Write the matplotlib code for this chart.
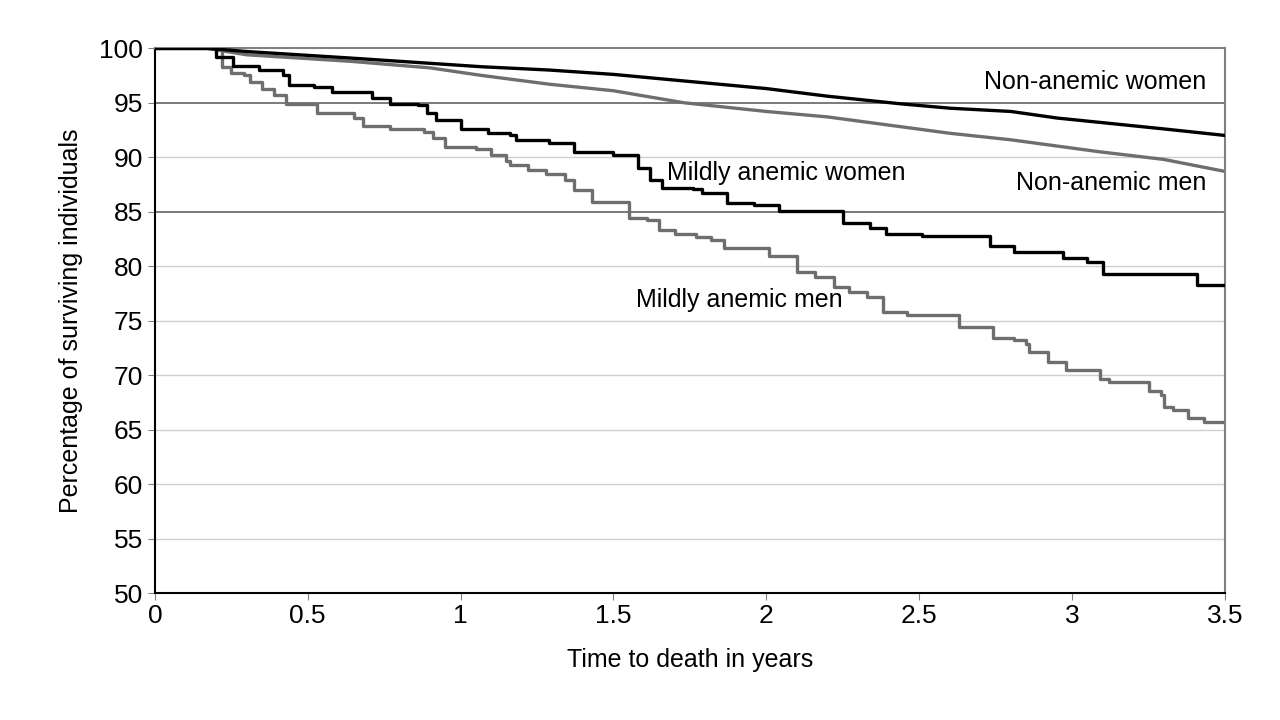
import matplotlib
matplotlib.use("Agg")
import matplotlib.pyplot as plt

# survival curves (time in years, % surviving)
nonanemic_women_t = [0, 0.17, 0.3, 0.64, 1.07, 1.29, 1.5, 1.73, 2.0, 2.2, 2.44, 2.6, 2.8, 2.95, 3.09, 3.3, 3.5]
nonanemic_women_s = [100, 100, 99.7, 99.1, 98.3, 98.0, 97.6, 97.0, 96.3, 95.6, 94.9, 94.5, 94.2, 93.6, 93.2, 92.6, 92.0]

nonanemic_men_t = [0, 0.17, 0.3, 0.64, 0.9, 1.07, 1.29, 1.5, 1.73, 2.0, 2.2, 2.44, 2.6, 2.8, 3.09, 3.3, 3.5]
nonanemic_men_s = [100, 100, 99.4, 98.8, 98.2, 97.5, 96.7, 96.1, 95.0, 94.2, 93.7, 92.8, 92.2, 91.6, 90.5, 89.8, 88.7]

mild_women_t = [0, 0.17, 0.2, 0.255, 0.34, 0.42, 0.44, 0.52, 0.58, 0.71, 0.77, 0.86, 0.89, 0.92, 1.0,
                1.09, 1.16, 1.18, 1.29, 1.37, 1.5, 1.58, 1.62, 1.66, 1.76, 1.79, 1.87, 1.96, 2.04, 2.25,
                2.34, 2.39, 2.51, 2.73, 2.81, 2.97, 3.05, 3.1, 3.41, 3.5]
mild_women_s = [100, 100, 99.2, 98.4, 98.0, 97.5, 96.6, 96.4, 96.0, 95.4, 94.9, 94.8, 94.1, 93.4, 92.6,
                92.2, 92.0, 91.6, 91.3, 90.5, 90.2, 89.0, 87.9, 87.2, 87.1, 86.7, 85.8, 85.6, 85.1, 84.0,
                83.5, 83.0, 82.8, 81.9, 81.3, 80.8, 80.4, 79.3, 78.3, 78.3]

mild_men_t = [0, 0.17, 0.22, 0.25, 0.29, 0.31, 0.35, 0.39, 0.43, 0.53, 0.65, 0.68, 0.77, 0.88, 0.91,
              0.95, 1.05, 1.1, 1.15, 1.16, 1.22, 1.28, 1.34, 1.37, 1.43, 1.55, 1.61, 1.65, 1.70, 1.77,
              1.82, 1.86, 2.01, 2.10, 2.16, 2.22, 2.27, 2.33, 2.38, 2.46, 2.63, 2.74, 2.81, 2.85, 2.86,
              2.92, 2.98, 3.09, 3.12, 3.25, 3.29, 3.3, 3.33, 3.38, 3.43, 3.5]
mild_men_s = [100, 100, 98.3, 97.7, 97.5, 96.9, 96.3, 95.7, 94.9, 94.1, 93.6, 92.9, 92.6, 92.3, 91.8,
              90.9, 90.8, 90.2, 89.7, 89.3, 88.8, 88.5, 87.9, 87.0, 85.9, 84.4, 84.2, 83.3, 83.0, 82.7,
              82.4, 81.7, 80.9, 79.5, 79.0, 78.1, 77.6, 77.2, 75.8, 75.5, 74.4, 73.4, 73.2, 72.9, 72.1,
              71.2, 70.5, 69.7, 69.4, 68.6, 68.2, 67.1, 66.8, 66.1, 65.7, 65.7]

x_ticks = [0, 0.5, 1, 1.5, 2, 2.5, 3, 3.5]
x_labels = ["0", "0.5", "1", "1.5", "2", "2.5", "3", "3.5"]
y_ticks = list(range(50, 101, 5))

plt.rcParams['font.family'] = ['Liberation Sans', 'DejaVu Sans']

fig = plt.figure(figsize=(12.8, 7.2), dpi=100)
ax = fig.add_axes([0.121, 0.176, 0.836, 0.757])

black = "#000000"
gray = "#6e6e6e"

# gridlines, the 95 and 85 lines are darker in the original
for y in y_ticks[1:-1]:
    c = "#707070" if y in (85, 95) else "#cfcfcf"
    ax.axhline(y, color=c, lw=1.3 if y in (85, 95) else 1.0, zorder=1)

# the non-anemic groups are large, so their curves look almost smooth
ax.plot(nonanemic_women_t, nonanemic_women_s, color=black, lw=2.4, zorder=3)
ax.plot(nonanemic_men_t, nonanemic_men_s, color=gray, lw=2.4, zorder=2)
ax.plot(mild_women_t, mild_women_s, drawstyle="steps-post", color=black, lw=2.4, zorder=3)
ax.plot(mild_men_t, mild_men_s, drawstyle="steps-post", color=gray, lw=2.4, zorder=2)

fs = 18
ax.text(3.44, 96.9, "Non-anemic women", ha="right", va="center", fontsize=fs)
ax.text(3.44, 87.6, "Non-anemic men", ha="right", va="center", fontsize=fs)
ax.text(1.675, 88.6, "Mildly anemic women", ha="left", va="center", fontsize=fs)
ax.text(1.573, 76.9, "Mildly anemic men", ha="left", va="center", fontsize=fs)

ax.set_xlim(0, 3.5)
ax.set_ylim(50, 100)
ax.set_xticks(x_ticks)
ax.set_xticklabels(x_labels)
ax.set_yticks(y_ticks)
ax.tick_params(axis="both", labelsize=fs + 1, length=5, color="#808080")
ax.tick_params(axis="x", pad=3)

ax.spines["left"].set_color(black)
ax.spines["bottom"].set_color(black)
ax.spines["top"].set_color("#808080")
ax.spines["right"].set_color("#808080")
for s in ax.spines.values():
    s.set_linewidth(1.5)

ax.set_xlabel("Time to death in years", fontsize=fs, labelpad=14)
ax.set_ylabel("Percentage of surviving individuals", fontsize=fs, labelpad=12)

fig.savefig("out.png", dpi=100)
